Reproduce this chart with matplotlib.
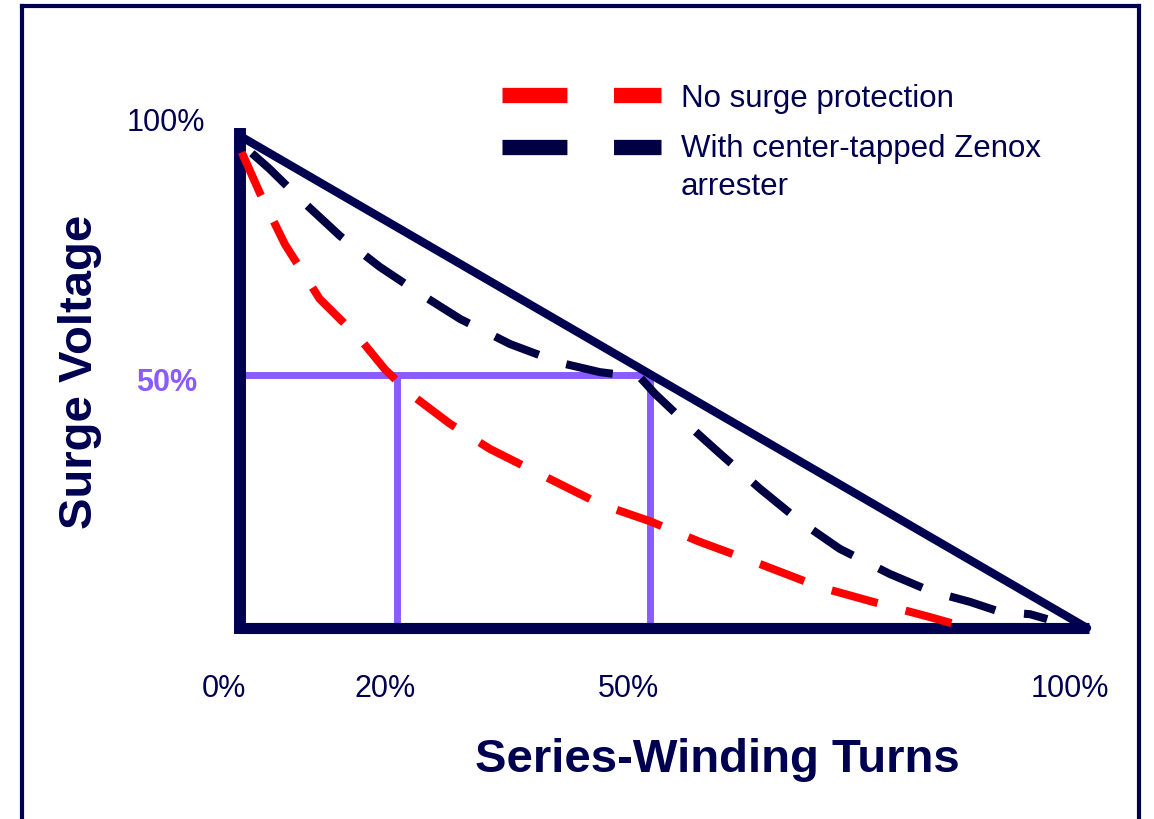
import numpy as np
import matplotlib.pyplot as plt
from matplotlib.lines import Line2D

plt.rcParams['font.family'] = ['Liberation Sans', 'DejaVu Sans']

# curves (x = % of series-winding turns, y = % surge voltage)
no_prot_x = [0.2, 2.4, 5.3, 9.4, 14.2, 17.1, 20.1, 24.8, 29.5, 35.4, 42.5, 48.4,
             54.3, 61.4, 68.5, 75.6, 81.5, 85.6]
no_prot_y = [96.7, 88.2, 78.0, 66.9, 58.7, 52.6, 47.6, 41.5, 36.4, 31.3, 25.2, 21.7,
             17.5, 13.0, 8.3, 4.9, 2.2, 0.2]

zenox_x = [1.4, 3.5, 7.1, 11.8, 16.5, 21.3, 26.0, 31.9, 37.8, 42.5, 47.2, 49.0,
           52.5, 56.7, 61.4, 66.1, 70.8, 76.7, 81.5, 86.2, 89.7, 93.3, 95.3]
zenox_y = [96.5, 93.3, 87.2, 79.7, 73.4, 67.9, 62.8, 57.7, 53.9, 52.0, 51.0, 47.6,
           41.9, 35.4, 28.3, 21.7, 16.1, 11.0, 7.5, 5.3, 3.3, 2.8, 1.8]

# linear reference (hypotenuse) and 50% guide lines
linear_x = [0, 100]
linear_y = [100, 0]
half_level = 51.4
guide_x = [18.5, 48.4]

xtick_labels = ['0%', '20%', '50%', '100%']
xtick_pos = [-1.9, 17.1, 45.9, 98.0]

legend_labels = ['No surge protection', 'With center-tapped Zenox\narrester']

NAVY = '#000050'
DNAVY = '#000042'
RED = '#ff0000'
PURPLE = '#8a5cff'

W, H = 1154, 820
fig = plt.figure(figsize=(W / 100, H / 100), dpi=100)
ax = fig.add_axes([0, 0, 1, 1])
ax.axis('off')
# pixel mapping: x 0 -> 240px, 100 -> 1087px ; y 0 -> 629px, 100 -> 137px
sx = (1087 - 240) / 100
sy = (629 - 137) / 100
ax.set_xlim(-240 / sx, (W - 240) / sx)
ax.set_ylim(-(H - 629) / sy, 629 / sy)

# frame around the slide
for xs, ys in [([22, 22], [H, 7]), ([22, 1139], [7, 7]), ([1139, 1139], [7, H])]:
    fig.add_artist(Line2D([x / W for x in xs], [1 - y / H for y in ys],
                          color=NAVY, lw=3, solid_capstyle='projecting'))

# guides
ax.plot([0, guide_x[1]], [half_level, half_level], color=PURPLE, lw=5, zorder=2)
for gx in guide_x:
    ax.plot([gx, gx], [0, half_level], color=PURPLE, lw=5, zorder=2)

# triangle
ax.plot(linear_x, linear_y, color=NAVY, lw=6, zorder=3, solid_capstyle='round')
ax.plot([0, 0], [0, 100.5], color=NAVY, lw=8.6, zorder=4, solid_capstyle='projecting')
ax.plot([0, 100.2], [0, 0], color=NAVY, lw=8, zorder=4, solid_capstyle='butt')

# curves
ax.plot(no_prot_x, no_prot_y, color=RED, lw=5.8, ls=(0, (5.9, 3.6)), zorder=5)
ax.plot(zenox_x, zenox_y, color=DNAVY, lw=5.8, ls=(0, (5.9, 3.6)), zorder=5)

# legend drawn by hand to match the slide
for ypx, col, lab, txy in [(95.5, RED, legend_labels[0], 99),
                           (147.5, DNAVY, legend_labels[1], 168)]:
    fig.add_artist(Line2D([502 / W, 661 / W], [1 - ypx / H] * 2, color=col, lw=11,
                          ls=(0, (4.25, 3.05)), solid_capstyle='butt'))
    fig.text(681 / W, 1 - txy / H, lab, fontsize=22.5, color=NAVY,
             ha='left', va='center', linespacing=1.38)

# tick labels
for pos, lab in zip(xtick_pos, xtick_labels):
    ax.text(pos, -12.2, lab, fontsize=22, color=NAVY, ha='center', va='center')
ax.text(-8.7, 102.8, '100%', fontsize=22, color=NAVY, ha='center', va='center')
ax.text(-8.7, 50.0, '50%', fontsize=22, color=PURPLE, ha='center', va='center',
        fontweight='bold')

# axis titles
fig.text(717 / W, 1 - 760 / H, 'Series-Winding Turns', fontsize=34, color=NAVY,
         fontweight='bold', ha='center', va='center')
fig.text(80 / W, 1 - 372 / H, 'Surge Voltage', fontsize=34, color=NAVY,
         fontweight='bold', ha='center', va='center', rotation=90)

fig.savefig('out.png', dpi=100)
